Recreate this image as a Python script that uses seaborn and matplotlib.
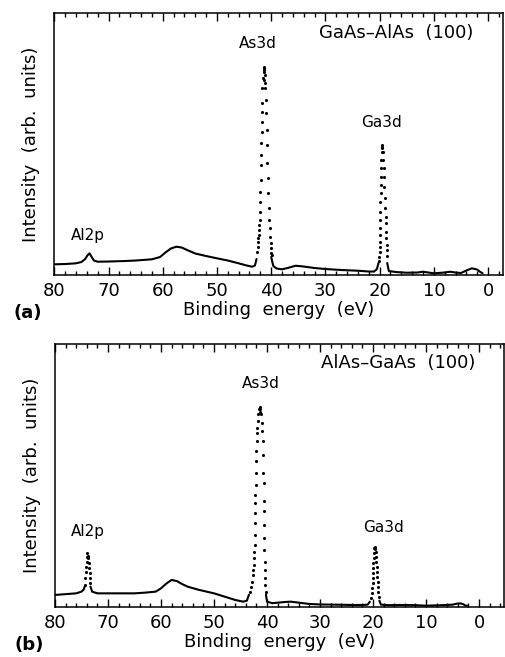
import numpy as np
import pandas as pd
import matplotlib
matplotlib.use("Agg")
import matplotlib.pyplot as plt
import seaborn as sns
from matplotlib.ticker import MultipleLocator

# ---------------- data ----------------
# Panel (a): GaAs-AlAs (100)
a_bg_x = [[80, 78, 76, 75, 74.3, 73.9, 73.5, 73.1, 72.7, 72, 70, 67, 65, 62, 60.5, 59.5,
           58.5, 57.5, 56.5, 55.5, 54, 52, 50, 48, 46, 44.5, 43.5, 43.0, 42.7],
          [40.0, 39.6, 39, 38, 37, 35.5, 34, 32, 30, 27, 24, 22, 21, 20.5, 20.2],
          [18.6, 18.3, 17, 15, 13, 12, 11, 10, 8, 7, 6, 5, 4, 3, 2, 1.5, 1]]
a_bg_y = [[10.7, 11, 11.7, 13, 16, 19.5, 21.7, 18, 14.5, 13.3, 13.5, 14, 14.5, 15.7, 18, 22.5,
           26.5, 28.3, 27.5, 25, 21.5, 19, 16.7, 14.5, 11.7, 9.5, 8.3, 9.5, 16],
          [18, 9, 6.5, 5.7, 7, 9.3, 8.5, 7, 6, 5, 4.3, 3.5, 3.5, 6, 12],
          [12, 4, 3, 2.3, 2.5, 3.3, 2.5, 1.7, 2.5, 3.3, 2.5, 2, 4.5, 6.7, 5.5, 3.3, 1.7]]

a_dot_x = [42.55, 42.45, 42.4, 42.35, 42.3, 42.25, 42.2, 42.15, 42.1, 42.05, 42.0, 41.95, 41.9,
           41.85, 41.8, 41.78, 41.75, 41.7, 41.65, 41.6, 41.5, 41.4,
           39.9, 39.95, 40.0, 40.1, 40.2, 40.3, 40.35, 40.45, 40.55, 40.6, 40.7, 40.75, 40.85,
           40.9, 41.0, 41.05,
           41.35, 41.25, 41.3, 41.2, 41.35, 41.15,
           19.95, 19.95, 19.9, 19.9, 19.9, 19.85, 19.85, 19.85, 19.8, 19.8, 19.75, 19.75, 19.7,
           19.65, 19.6,
           18.65, 18.7, 18.75, 18.8, 18.85, 18.9, 18.95, 19.0, 19.1, 19.15, 19.25, 19.35, 19.45,
           19.55, 19.5, 20.2, 20.05, 18.55]
a_dot_y = [23.3, 28.3, 33.3, 36.7, 40, 45, 50, 55, 63.3, 73.3, 83.3, 95, 110,
           120, 131.7, 143.3, 153.3, 163.3, 171.7, 186.7, 196.7, 205,
           20, 21.7, 26.7, 31.7, 38.3, 46.7, 55, 66.7, 81.7, 96.7, 111.7, 130, 145,
           161.7, 175, 186.7,
           208.3, 206.7, 203, 200, 195, 192,
           23.3, 28.3, 33.3, 40, 46.7, 55, 63.3, 73.3, 81.7, 90, 98.3, 106.7, 115,
           123.3, 128.3,
           25, 30, 36.7, 43.3, 51.7, 58.3, 66.7, 76.7, 88.3, 98.3, 106.7, 115, 123.3,
           130, 127, 14, 18.5, 19]

# Panel (b): AlAs-GaAs (100)
b_bg_x = [[80, 78, 76, 75, 74.6, 74.4],
          [73.3, 73.0, 72, 70, 67, 65, 63, 61, 60, 59, 58, 57, 56, 55, 53, 51, 50, 48, 46,
           44.5, 43.8, 43.4],
          [40.2, 40.0, 39, 38, 36.5, 35.5, 34, 32, 30, 27, 24, 22, 21, 20.6],
          [18.8, 18.5, 17, 15, 12, 10, 7, 5, 4.2, 3.5, 3, 2.5, 2.2]]
b_bg_y = [[11.7, 12.5, 13.3, 15, 17, 20],
          [20, 15, 13.3, 13.3, 13.3, 13.3, 14, 15, 18.3, 23, 26.7, 25.5, 22.5, 20, 17, 14.5,
           13.3, 10, 6.7, 5, 6, 12],
          [12, 5, 3.5, 4, 4.7, 5, 4, 2.7, 2.2, 2, 1.7, 1.7, 2, 5],
          [6, 2, 1.5, 1.7, 1.5, 1, 1.5, 2, 3, 3.3, 2.5, 1, 1]]

b_dot_x = [74.35, 74.25, 74.15, 74.1, 74.05, 74.0,
           73.35, 73.4, 73.45, 73.5, 73.6, 73.7, 73.9, 73.85,
           43.2, 43.0, 42.85, 42.7, 42.6, 42.5, 42.45, 42.4, 42.35, 42.3, 42.3, 42.25, 42.2,
           42.2, 42.15, 42.1, 42.05, 42.0, 41.95, 41.9, 41.85, 41.75, 41.65, 41.5,
           40.2, 40.3, 40.35, 40.4, 40.45, 40.5, 40.55, 40.55, 40.6, 40.6, 40.65, 40.7, 40.75,
           40.85, 40.9, 41.0, 41.1,
           41.3, 41.25, 41.35,
           20.3, 20.2, 20.1, 20.05, 20.0, 20.0, 19.95, 19.95, 19.9, 19.85, 19.8,
           18.9, 19.0, 19.1, 19.15, 19.2, 19.25, 19.3, 19.35, 19.4, 19.5,
           19.7, 19.65]
b_dot_y = [21.7, 28.3, 35, 40, 45, 50,
           23.3, 28.3, 33.3, 38.3, 43.3, 48.3, 53.3, 51,
           15, 20, 25, 31.7, 36.7, 41.7, 48.3, 55, 61.7, 71.7, 83.3, 93.3, 103.3,
           111.7, 121.7, 133.3, 145, 155, 165, 173.3, 178.3, 185, 191.7, 196.7,
           15, 21.7, 28.3, 36.7, 45, 56.7, 68.3, 81.7, 95, 105, 123.3, 133.3, 151.7,
           165, 175, 183.3, 191.7,
           199.3, 197, 194,
           8.3, 13.3, 18.3, 23.3, 28.3, 33.3, 38.3, 43.3, 48.3, 53.3, 58.3,
           10, 15, 20, 25, 30, 35, 40, 45, 50, 55,
           60, 58]

x_ticks = [80, 70, 60, 50, 40, 30, 20, 10, 0]
a_labels = [("As3d", 42.4, 232), ("Ga3d", 19.6, 153), ("Al2p", 73.8, 40)]
b_labels = [("As3d", 41.25, 223), ("Ga3d", 18.0, 79), ("Al2p", 73.8, 75)]
a_title = "GaAs\u2013AlAs  (100)"
b_title = "AlAs\u2013GaAs  (100)"

# ---------------- plotting ----------------
sns.set_style("ticks")
plt.rcParams["font.family"] = ["DejaVu Sans"]
plt.rcParams["text.color"] = "black"
plt.rcParams["axes.labelcolor"] = "black"
plt.rcParams["xtick.color"] = "black"
plt.rcParams["ytick.color"] = "black"

fig = plt.figure(figsize=(5.05, 6.57), dpi=100)
ax_a = fig.add_axes([0.1075, 0.5814, 0.889, 0.3988])
ax_b = fig.add_axes([0.1089, 0.0766, 0.889, 0.3998])


def make_bg(xs, ys):
    rows = []
    for i, (sx, sy) in enumerate(zip(xs, ys)):
        for xv, yv in zip(sx, sy):
            rows.append({"seg": i, "E": xv, "I": yv})
    return pd.DataFrame(rows)


def draw(ax, bg_x, bg_y, dot_x, dot_y, xright, title, title_xy, labels, tag):
    bg = make_bg(bg_x, bg_y)
    sns.lineplot(data=bg, x="E", y="I", units="seg", estimator=None, sort=False,
                 color="black", linewidth=1.5, ax=ax, legend=False)
    dots = pd.DataFrame({"E": dot_x, "I": dot_y})
    sns.scatterplot(data=dots, x="E", y="I", color="black", s=5, linewidth=0,
                    ax=ax, legend=False)
    ax.set_xlim(80, xright)
    ax.set_ylim(0, 262)
    ax.set_xticks(x_ticks)
    ax.xaxis.set_minor_locator(MultipleLocator(2))
    ax.set_yticks([])
    ax.tick_params(axis="x", which="both", direction="in", top=True, bottom=True,
                   labelsize=13, pad=5, width=1.0, colors="black")
    ax.tick_params(axis="x", which="major", length=6)
    ax.tick_params(axis="x", which="minor", length=3)
    for sp in ax.spines.values():
        sp.set_visible(True)
        sp.set_linewidth(1.1)
        sp.set_color("black")
    ax.set_xlabel("Binding  energy  (eV)", fontsize=13, labelpad=1, color="black")
    ax.set_ylabel("Intensity  (arb.  units)", fontsize=13, labelpad=10, color="black")
    ax.text(title_xy[0], title_xy[1], title, fontsize=13, ha="center", va="center",
            color="black")
    for txt, xv, yv in labels:
        ax.text(xv, yv, txt, fontsize=11, ha="center", va="center", color="black")
    ax.text(-0.09, -0.145, tag, transform=ax.transAxes, fontsize=13,
            fontweight="bold", ha="left", va="center", color="black")


draw(ax_a, a_bg_x, a_bg_y, a_dot_x, a_dot_y, -2.8, a_title, (17.0, 242),
     a_labels, "(a)")
draw(ax_b, b_bg_x, b_bg_y, b_dot_x, b_dot_y, -4.7, b_title, (15.2, 243),
     b_labels, "(b)")

fig.savefig("out.png", dpi=100)
